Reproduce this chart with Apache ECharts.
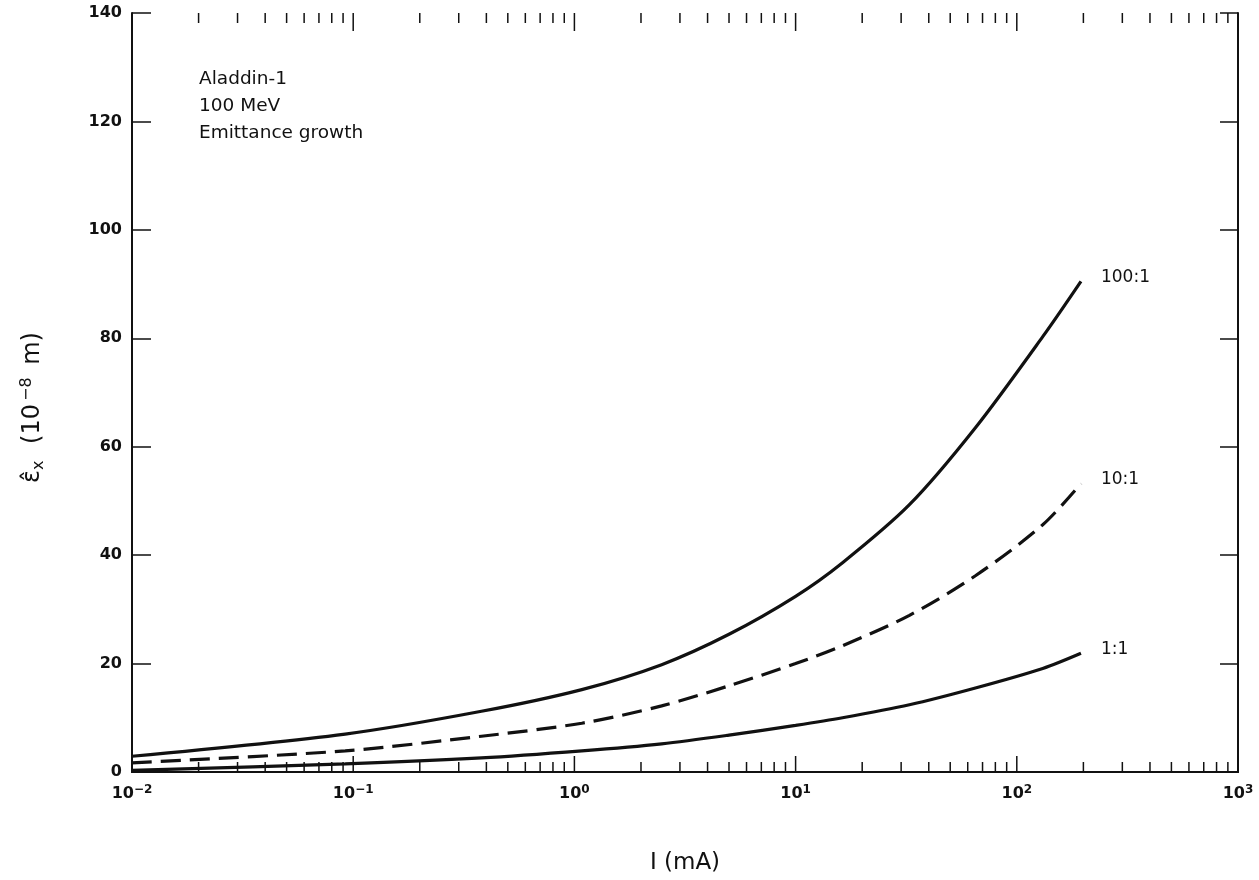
<!DOCTYPE html>
<html><head><meta charset="utf-8">
<script src="https://cdn.jsdelivr.net/npm/echarts@6/dist/echarts.min.js"></script>
<style>html,body{margin:0;padding:0;background:#fff}#c{width:1259px;height:880px}</style>
</head><body><div id="c"></div>
<script>
// Beam current I (mA)
const currents = [0.01, 0.092, 0.38, 1.08, 2.48, 5.0, 10, 16.3, 32.7, 65, 131, 195];
// Emittance (10^-8 m) for coupling ratios
const eps100 = [2.9, 7.0, 11.2, 15.2, 19.8, 25.4, 32.4, 38.6, 49.3, 63.5, 80.3, 90.5];
const eps10  = [1.7, 3.9, 6.6, 9.0, 12.2, 15.9, 20.0, 23.3, 28.9, 36.2, 45.6, 53.2];
const eps1   = [0.3, 1.5, 2.6, 3.9, 5.2, 6.8, 8.6, 10.0, 12.4, 15.5, 19.1, 21.9];
const seriesNames = ['100:1', '10:1', '1:1'];
const annotation = ['Aladdin-1', '100 MeV', 'Emittance growth'];
const xMin = 0.01, xMax = 1000, yMin = 0, yMax = 140, yStep = 20;
const decades = [0.01, 0.1, 1, 10, 100, 1000];
const minorTicks = [];
decades.slice(0, -1).forEach(d => { for (let k = 2; k <= 9; k++) minorTicks.push(+(d * k).toPrecision(3)); });

const FONT = 'DejaVu Sans';
const INK = '#111';
const pair = (xs, ys) => xs.map((x, i) => [x, ys[i]]);

function tickRender(lenBottom, lenTop) {
  return function (params, api) {
    const v = api.value(0);
    const b = api.coord([v, yMin]);
    const t = api.coord([v, yMax]);
    return {
      type: 'group', children: [
        { type: 'line', shape: { x1: b[0], y1: b[1], x2: b[0], y2: b[1] - lenBottom }, style: { stroke: INK, lineWidth: 1.5 } },
        { type: 'line', shape: { x1: t[0], y1: t[1], x2: t[0], y2: t[1] + lenTop }, style: { stroke: INK, lineWidth: 1.5 } }
      ]
    };
  };
}

function curve(name, ys, dashed) {
  return {
    name: name, type: 'line', data: pair(currents, ys), smooth: 0.3, symbol: 'none',
    lineStyle: { color: INK, width: 3.2, type: dashed ? [20, 9] : 'solid' },
    itemStyle: { color: INK },
    endLabel: { show: true, formatter: '{a}', distance: 20, offset: [0, -4], color: INK, fontFamily: FONT, fontSize: 17 },
    z: 5
  };
}

const chart = echarts.init(document.getElementById('c'));
chart.setOption({
  animation: false,
  backgroundColor: '#fff',
  grid: { left: 132, right: 21, top: 13, bottom: 106 },
  xAxis: [{
    type: 'log', logBase: 10, min: xMin, max: xMax, splitNumber: 5, position: 'bottom',
    name: 'I (mA)', nameLocation: 'middle', nameGap: 80,
    nameTextStyle: { fontFamily: FONT, fontSize: 23, color: INK },
    axisLine: { show: true, lineStyle: { color: INK, width: 2 } },
    axisTick: { show: false }, splitLine: { show: false },
    axisLabel: {
      margin: 12, color: INK, fontFamily: FONT, fontSize: 16, fontWeight: 'bold',
      formatter: v => '{b|10}{s|' + String(Math.round(Math.log10(v))).replace('-', '−') + '}',
      rich: {
        b: { fontSize: 16, fontFamily: FONT, fontWeight: 'bold', color: INK, lineHeight: 20 },
        s: { fontSize: 12, fontFamily: FONT, color: INK, verticalAlign: 'top', lineHeight: 12 }
      }
    }
  }, {
    type: 'log', logBase: 10, min: xMin, max: xMax, position: 'top',
    axisLine: { show: true, lineStyle: { color: INK, width: 2 } },
    axisTick: { show: false }, axisLabel: { show: false }, splitLine: { show: false }
  }],
  yAxis: [{
    type: 'value', min: yMin, max: yMax, interval: yStep, position: 'left',
    name: '{e|ε̂}{x|x}{t| (10}{p|−8}{r| m)}', nameLocation: 'middle', nameGap: 85,
    nameTextStyle: {
      color: INK, fontFamily: FONT,
      rich: {
        e: { fontSize: 24, fontFamily: FONT, color: INK, lineHeight: 28 },
        x: { fontSize: 16, fontFamily: FONT, color: INK, verticalAlign: 'bottom', lineHeight: 18, padding: [0, 9, 0, 0] },
        t: { fontSize: 24, fontFamily: FONT, color: INK, lineHeight: 28, padding: [0, 2, 0, 0] },
        p: { fontSize: 16, fontFamily: FONT, color: INK, verticalAlign: 'top', lineHeight: 16, padding: [0, 5, 0, 1] },
        r: { fontSize: 24, fontFamily: FONT, color: INK, lineHeight: 28, padding: [0, 30, 0, 0] }
      }
    },
    axisLine: { show: true, lineStyle: { color: INK, width: 2 } },
    axisTick: { show: true, inside: true, length: 19, lineStyle: { color: INK, width: 1.5 } },
    splitLine: { show: false },
    axisLabel: { margin: 10, color: INK, fontFamily: FONT, fontSize: 16, fontWeight: 'bold' }
  }, {
    type: 'value', min: yMin, max: yMax, interval: yStep, position: 'right',
    axisLine: { show: true, lineStyle: { color: INK, width: 2 } },
    axisTick: { show: true, inside: true, length: 18, lineStyle: { color: INK, width: 1.5 } },
    axisLabel: { show: false }, splitLine: { show: false }
  }],
  graphic: [{
    type: 'text', left: 199, top: 66,
    style: { text: annotation.join('\n'), fontFamily: FONT, fontSize: 18.5, lineHeight: 27, fill: INK }
  }],
  series: [
    curve(seriesNames[0], eps100, false),
    curve(seriesNames[1], eps10, true),
    curve(seriesNames[2], eps1, false),
    { type: 'custom', name: 'majorTicks', renderItem: tickRender(16, 18), data: decades.map(v => [v, 0]), encode: { x: 0, y: 1 }, silent: true, z: 3 },
    { type: 'custom', name: 'minorTicks', renderItem: tickRender(10, 10), data: minorTicks.map(v => [v, 0]), encode: { x: 0, y: 1 }, silent: true, z: 3 }
  ]
});
</script></body></html>
